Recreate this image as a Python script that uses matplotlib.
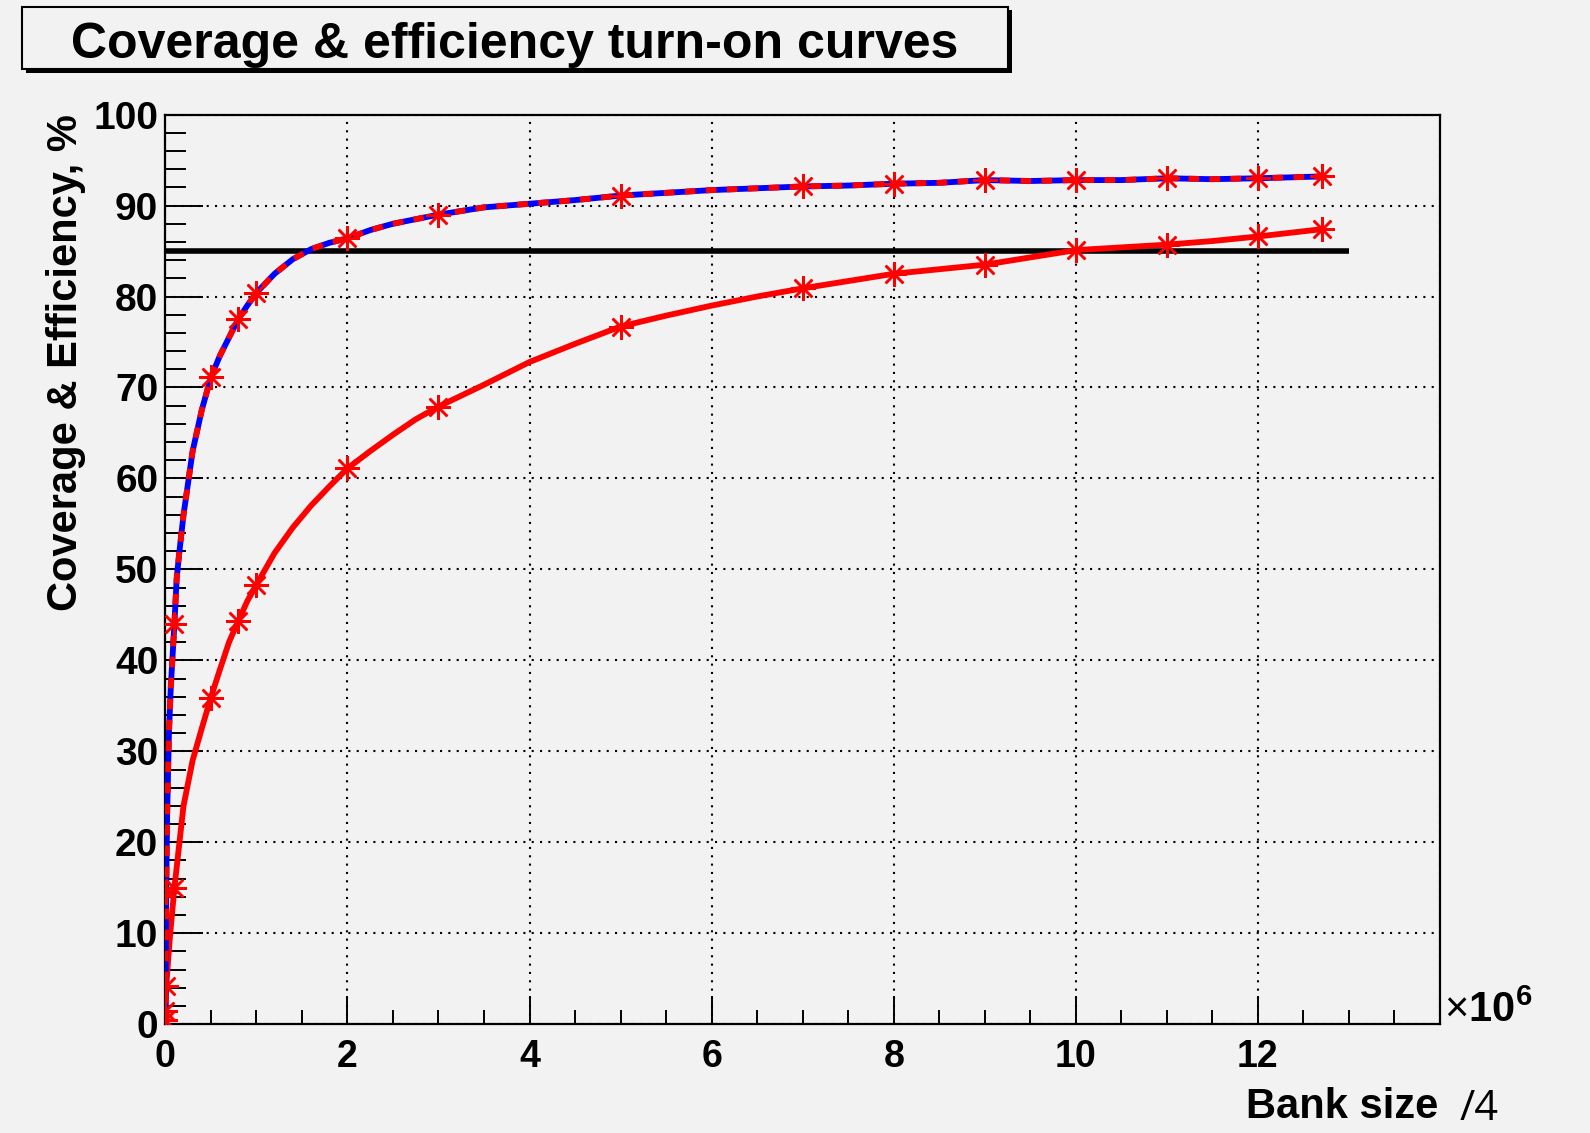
import matplotlib
matplotlib.use("Agg")
import matplotlib.pyplot as plt
from matplotlib.patches import Rectangle
from matplotlib.ticker import MultipleLocator

plt.rcParams['font.family'] = ['Liberation Sans', 'DejaVu Sans']
plt.rcParams['font.weight'] = 'bold'
plt.rcParams['mathtext.fontset'] = 'custom'
plt.rcParams['mathtext.rm'] = 'Liberation Sans:normal'
plt.rcParams['mathtext.bf'] = 'Liberation Sans:bold'

# ---------------- data (bank size in units of 1e6) ----------------
title = "Coverage & efficiency turn-on curves"
ylabel = "Coverage & Efficiency, %"
xlabel = "Bank size"

# upper curve (red/blue dashed)
dashed_x = [0, 0.001, 0.01, 0.02, 0.04, 0.06, 0.08, 0.1, 0.125, 0.15, 0.2, 0.25, 0.3, 0.4,
            0.5, 0.6, 0.7, 0.8, 0.9, 1.0, 1.2, 1.4, 1.6, 1.8, 2.0, 2.25, 2.5,
            3.0, 3.5, 4.0, 4.5, 5.0, 5.5, 6.0, 6.5, 7.0, 7.5, 8.0, 8.5, 9.0,
            9.5, 10.0, 10.5, 11.0, 11.5, 12.0, 12.35, 12.7]
dashed_y = [0, 1.4, 14.5, 23, 32, 37, 40.5, 44, 49, 51.5, 56, 59.5, 63, 67.5,
            71.1, 73.5, 75.5, 77.5, 79.0, 80.4, 82.5, 84.1, 85.2, 85.9, 86.4, 87.3, 88.0,
            89.0, 89.8, 90.2, 90.6, 91.1, 91.4, 91.7, 91.9, 92.1, 92.2, 92.4, 92.5, 92.8,
            92.7, 92.8, 92.8, 93.0, 92.9, 93.0, 93.1, 93.2]

# lower curve (solid red)
solid_x = [0, 0.001, 0.01, 0.05, 0.1, 0.15, 0.2, 0.3, 0.4, 0.5, 0.6, 0.7, 0.8,
           0.9, 1.0, 1.2, 1.4, 1.6, 1.8, 2.0, 2.25, 2.5, 2.75, 3.0, 3.5, 4.0,
           4.5, 5.0, 5.5, 6.0, 6.5, 7.0, 7.5, 8.0, 8.5, 9.0, 9.5, 10.0, 10.5,
           11.0, 11.5, 12.0, 12.35, 12.7]
solid_y = [0, 0.5, 4.2, 9.5, 15.0, 19.5, 24.0, 29.0, 32.5, 35.9, 39.0, 42.0, 44.3,
           46.5, 48.3, 51.8, 54.6, 57.0, 59.1, 61.1, 63.0, 64.8, 66.5, 67.9, 70.3, 72.8,
           74.8, 76.7, 77.9, 79.0, 80.0, 80.9, 81.7, 82.5, 83.0, 83.5, 84.3, 85.1, 85.4,
           85.7, 86.1, 86.6, 87.0, 87.4]

# star markers
marker_x = [0.001, 0.01, 0.1, 0.5, 0.8, 1, 2, 3, 5, 7, 8, 9, 10, 11, 12, 12.7]
dashed_marker_y = [1.4, 14.5, 44, 71.1, 77.5, 80.4, 86.4, 89.0, 91.1, 92.1, 92.4,
                   92.8, 92.8, 93.0, 93.0, 93.2]
solid_marker_y = [0.5, 4.2, 15.0, 35.9, 44.3, 48.3, 61.1, 67.9, 76.7, 80.9, 82.5,
                  83.5, 85.1, 85.7, 86.6, 87.4]

# reference threshold line
threshold_x = [0, 13]
threshold_y = [85, 85]

xticks = [0, 2, 4, 6, 8, 10, 12, 14]
xticklabels = ['0', '2', '4', '6', '8', '10', '12', '']
yticks = [0, 10, 20, 30, 40, 50, 60, 70, 80, 90, 100]
yticklabels = [str(v) for v in yticks]

# ---------------- figure ----------------
W, H = 1590, 1133
BG = '#f2f2f2'
fig = plt.figure(figsize=(W / 100, H / 100), dpi=100, facecolor=BG)

ax_l, ax_r, ax_t, ax_b = 165.3, 1440, 114.6, 1024.2
ax = fig.add_axes([ax_l / W, 1 - ax_b / H, (ax_r - ax_l) / W, (ax_b - ax_t) / H])
ax.set_facecolor(BG)
ax.set_xlim(0, 14)
ax.set_ylim(0, 100)

ax.set_xticks(xticks)
ax.set_xticklabels(xticklabels)
ax.set_yticks(yticks)
ax.set_yticklabels(yticklabels)
ax.xaxis.set_minor_locator(MultipleLocator(0.5))
ax.yaxis.set_minor_locator(MultipleLocator(2))

ax.xaxis.set_tick_params(which='major', direction='in', length=20, width=1.4,
                         labelsize=27, pad=11, top=False)
ax.xaxis.set_tick_params(which='minor', direction='in', length=10, width=1.4, top=False)
ax.yaxis.set_tick_params(which='major', direction='in', length=27, width=1.4,
                         labelsize=28, pad=5, right=False)
ax.yaxis.set_tick_params(which='minor', direction='in', length=15, width=1.4, right=False)
for lab in ax.get_xticklabels() + ax.get_yticklabels():
    lab.set_fontweight('bold')

for s in ax.spines.values():
    s.set_linewidth(1.6)

ax.grid(True, which='major', color='black', linestyle=(0, (1, 3)), linewidth=1.5)
ax.set_axisbelow(True)

# threshold line
ax.plot(threshold_x, threshold_y, color='black', lw=4, zorder=2.5, solid_capstyle='butt')

# lower curve
ax.plot(solid_x, solid_y, color='#ff0000', lw=4.2, zorder=3)
ax.plot(marker_x, solid_marker_y, linestyle='none', marker=(8, 2, 0), markersize=18,
        markeredgewidth=1.8, color='#ff0000', zorder=5)

# upper curve : blue underneath, red dashes on top
ax.plot(dashed_x, dashed_y, color='#0000ff', lw=4.2, zorder=3)
ax.plot(dashed_x, dashed_y, color='#ff0000', lw=4.2, zorder=3.5,
        linestyle=(0, (1.8, 1.8)), dash_capstyle='butt')
ax.plot(marker_x, dashed_marker_y, linestyle='none', marker=(8, 2, 0), markersize=18,
        markeredgewidth=1.8, color='#ff0000', zorder=5)

# axis titles
ax.set_ylabel(ylabel, fontsize=30, fontweight='bold', loc='top')
ax.yaxis.set_label_coords((86 - ax_l) / (ax_r - ax_l), 1.0)
ax.text((1438 - ax_l) / (ax_r - ax_l), (ax_b - 1118) / (ax_b - ax_t), xlabel,
        transform=ax.transAxes, ha='right', va='baseline', fontsize=30, fontweight='bold')
ax.text((1460 - ax_l) / (ax_r - ax_l), (ax_b - 1120) / (ax_b - ax_t), "/4",
        transform=ax.transAxes, ha='left', va='baseline', fontsize=30,
        fontweight='normal', family=['Open Sans', 'DejaVu Sans'])
ax.text((1444 - ax_l) / (ax_r - ax_l), (ax_b - 1022) / (ax_b - ax_t),
        r'$\times\mathbf{10}^{\mathbf{6}}$',
        transform=ax.transAxes, ha='left', va='baseline', fontsize=30)

# title box with shadow
bx0, bx1, by0, by1 = 22, 1008, 7, 69
sh = 3.5
fig.patches.append(Rectangle(((bx0 + sh) / W, 1 - (by1 + sh) / H), (bx1 - bx0) / W,
                             (by1 - by0) / H, transform=fig.transFigure,
                             facecolor='black', edgecolor='black', lw=0, zorder=1))
fig.patches.append(Rectangle((bx0 / W, 1 - by1 / H), (bx1 - bx0) / W, (by1 - by0) / H,
                             transform=fig.transFigure, facecolor=BG,
                             edgecolor='black', lw=1.5, zorder=2))
fig.text((bx0 + bx1) / 2 / W, 1 - 58 / H, title, ha='center', va='baseline',
         fontsize=36, fontweight='bold', zorder=3)

fig.savefig('out.png', dpi=100, facecolor=BG)
